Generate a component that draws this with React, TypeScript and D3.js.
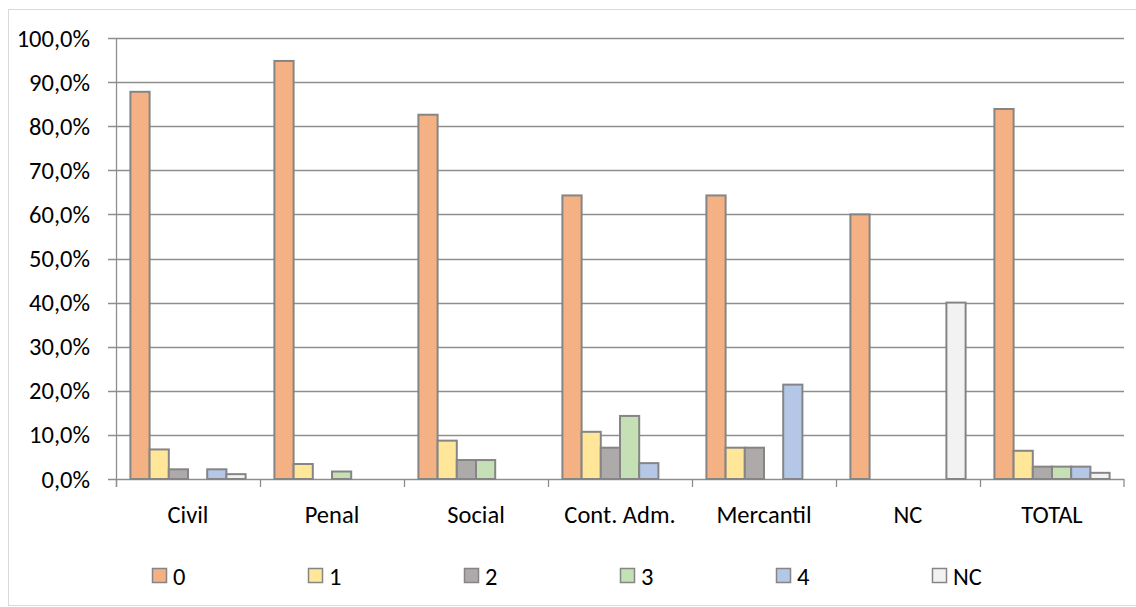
import React from "react";
import * as d3 from "d3";

const categories = ["Civil", "Penal", "Social", "Cont. Adm.", "Mercantil", "NC", "TOTAL"];
const seriesNames = ["0", "1", "2", "3", "4", "NC"];
const s0 = [87.8, 94.8, 82.6, 64.3, 64.3, 60.0, 83.9];
const s1 = [6.7, 3.4, 8.7, 10.7, 7.1, 0, 6.4];
const s2 = [2.2, 0, 4.3, 7.1, 7.1, 0, 2.8];
const s3 = [0, 1.7, 4.3, 14.3, 0, 0, 2.8];
const s4 = [2.2, 0, 0, 3.6, 21.4, 0, 2.8];
const sNC = [1.1, 0, 0, 0, 0, 40.0, 1.4];
const seriesValues = [s0, s1, s2, s3, s4, sNC];
const colors = ["#F4B183", "#FFE699", "#AEAAAA", "#C5E0B4", "#B4C7E7", "#F2F2F2"];
const yTicks = [0, 10, 20, 30, 40, 50, 60, 70, 80, 90, 100];

const W = 1136;
const H = 607;
const left = 116;
const right = 1124;
const top = 38;
const bottom = 479;
const FONT = "Carlito, Calibri, Lato, 'Open Sans', sans-serif";
const FS = 24.5;

export default function App() {
  const x = d3.scaleBand<string>().domain(categories).range([left, right]).padding(0);
  const bw = x.bandwidth();
  const inner = d3
    .scaleBand<string>()
    .domain(seriesNames)
    .range([0, bw])
    .paddingInner(0)
    .paddingOuter(0.75);
  const y = d3.scaleLinear().domain([0, 100]).range([bottom, top]);
  const fmt = (v: number) => v.toFixed(1).replace(".", ",") + "%";
  const legendX = d3.scalePoint<string>().domain(seriesNames).range([152, 932]);

  return (
    <svg
      width={W}
      height={H}
      style={{ position: "absolute", left: 0, top: 0, background: "#fff" }}
      fontFamily={FONT}
    >
      <rect x={8.5} y={9.5} width={1140} height={596} fill="#fff" stroke="#D9D9D9" strokeWidth={1} />
      {yTicks.map((t) => (
        <g key={t}>
          <line x1={108} x2={right} y1={Math.round(y(t)) + 0.5} y2={Math.round(y(t)) + 0.5} stroke="#8E8E8E" strokeWidth={1.3} />
          <text x={90} y={y(t)} dy="0.35em" textAnchor="end" fontSize={FS} fill="#000">
            {fmt(t)}
          </text>
        </g>
      ))}
      <line x1={left + 0.5} x2={left + 0.5} y1={top} y2={487} stroke="#8E8E8E" strokeWidth={1.3} />
      {categories.map((c) => (
        <line key={"t" + c} x1={x(c)! + 0.5} x2={x(c)! + 0.5} y1={bottom} y2={487} stroke="#8E8E8E" strokeWidth={1.3} />
      ))}
      <line x1={right} x2={right} y1={bottom} y2={487} stroke="#8E8E8E" strokeWidth={1.3} />
      {categories.map((c, ci) =>
        seriesNames.map((s, si) => {
          const v = seriesValues[si][ci];
          if (!v) return null;
          const bx = x(c)! + inner(s)!;
          return (
            <rect
              key={c + s}
              x={bx}
              y={y(v)}
              width={inner.bandwidth()}
              height={bottom - y(v)}
              fill={colors[si]}
              stroke="#858585"
              strokeWidth={2}
            />
          );
        })
      )}
      {categories.map((c) => (
        <text key={"l" + c} x={x(c)! + bw / 2} y={514} dy="0.35em" textAnchor="middle" fontSize={FS} fill="#000">
          {c}
        </text>
      ))}
      {seriesNames.map((s, si) => (
        <g key={"lg" + s}>
          <rect x={legendX(s)! + 0.5} y={568.5} width={14} height={14} fill={colors[si]} stroke="#858585" strokeWidth={1.5} />
          <text x={legendX(s)! + 21} y={576} dy="0.35em" fontSize={FS} fill="#000">
            {s}
          </text>
        </g>
      ))}
    </svg>
  );
}
